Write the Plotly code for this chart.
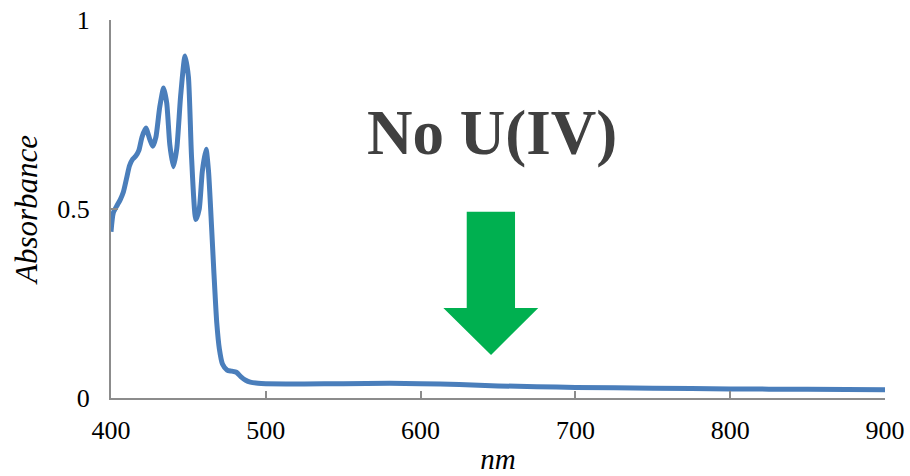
import plotly.graph_objects as go

# Spectrum data (wavelength nm, absorbance)
wavelength = [400, 401.5, 404, 406, 408, 410, 412, 414, 416, 418, 420, 422.5, 425, 427,
              429, 431.5, 434, 436, 438, 440.3, 442.5, 445, 447.8, 450, 452, 454.8, 457,
              459, 461.4, 463, 465, 466.5, 468.3, 470, 472, 475, 478, 481, 484, 487, 490,
              495, 500, 525, 550, 580, 600, 625, 650, 675, 700, 750, 800, 850, 900]
absorbance = [0.44, 0.49, 0.51, 0.525, 0.545, 0.58, 0.615, 0.632, 0.64, 0.655, 0.69, 0.714,
              0.685, 0.666, 0.69, 0.77, 0.82, 0.78, 0.67, 0.612, 0.66, 0.80, 0.905, 0.85,
              0.64, 0.472, 0.50, 0.60, 0.658, 0.60, 0.45, 0.33, 0.20, 0.13, 0.09, 0.074,
              0.071, 0.068, 0.056, 0.047, 0.042, 0.039, 0.038, 0.037, 0.038, 0.039, 0.038,
              0.036, 0.032, 0.030, 0.028, 0.026, 0.024, 0.023, 0.022]

x_ticks = [400, 500, 600, 700, 800, 900]
y_ticks = [0, 0.5, 1]
y_ticktext = ["0", "0.5", "1"]

annotation_text = "No U(IV)"
annotation_x = 646
annotation_y = 0.70

# Arrow outline in data coordinates (shaft left/right, head left/right, tip)
arrow_shaft = (629.8, 661.0)
arrow_head = (614.7, 676.0)
arrow_tip_x = 645.5
arrow_top_y = 0.493
arrow_neck_y = 0.238
arrow_tip_y = 0.114

FONT = "Liberation Serif"
AXIS_COLOR = "#8c8c8c"

fig = go.Figure()
fig.add_trace(go.Scatter(
    x=wavelength, y=absorbance, mode="lines",
    line=dict(color="#4A7EBB", width=5, shape="spline", smoothing=0.6),
    hoverinfo="x+y", showlegend=False,
))

path = (f"M {arrow_shaft[0]},{arrow_top_y} L {arrow_shaft[1]},{arrow_top_y} "
        f"L {arrow_shaft[1]},{arrow_neck_y} L {arrow_head[1]},{arrow_neck_y} "
        f"L {arrow_tip_x},{arrow_tip_y} L {arrow_head[0]},{arrow_neck_y} "
        f"L {arrow_shaft[0]},{arrow_neck_y} Z")
fig.add_shape(type="path", path=path, xref="x", yref="y",
              fillcolor="#00B050", line=dict(width=0), layer="above")

fig.add_annotation(x=annotation_x, y=annotation_y, xref="x", yref="y",
                   text=f"<b>{annotation_text}</b>", showarrow=False,
                   font=dict(family=FONT, size=63, color="#404040"),
                   xanchor="center", yanchor="middle")

fig.update_layout(
    width=910, height=476,
    margin=dict(l=111, r=25, t=20, b=78),
    paper_bgcolor="white", plot_bgcolor="white",
    font=dict(family=FONT, color="#000000"),
)
fig.update_xaxes(
    range=[400, 900], tickvals=x_ticks, showgrid=False, zeroline=False,
    showline=True, linecolor=AXIS_COLOR, linewidth=2, automargin=False,
    ticks="inside", ticklen=7, tickcolor=AXIS_COLOR, tickwidth=2,
    tickfont=dict(family=FONT, size=26, color="#000000"),
    ticklabelstandoff=8,
    title=dict(text="<i>nm</i>", font=dict(family=FONT, size=29, color="#000000"), standoff=4),
)
fig.update_yaxes(
    range=[0, 1], tickvals=y_ticks, ticktext=y_ticktext, showgrid=False, zeroline=False,
    showline=True, linecolor=AXIS_COLOR, linewidth=2, automargin=False,
    ticks="inside", ticklen=7, tickcolor=AXIS_COLOR, tickwidth=2,
    tickfont=dict(family=FONT, size=26, color="#000000"),
    ticklabelstandoff=14,
    title=dict(text="<i>Absorbance</i>", font=dict(family=FONT, size=31, color="#000000"), standoff=10),
)

fig.write_html("out.html")
